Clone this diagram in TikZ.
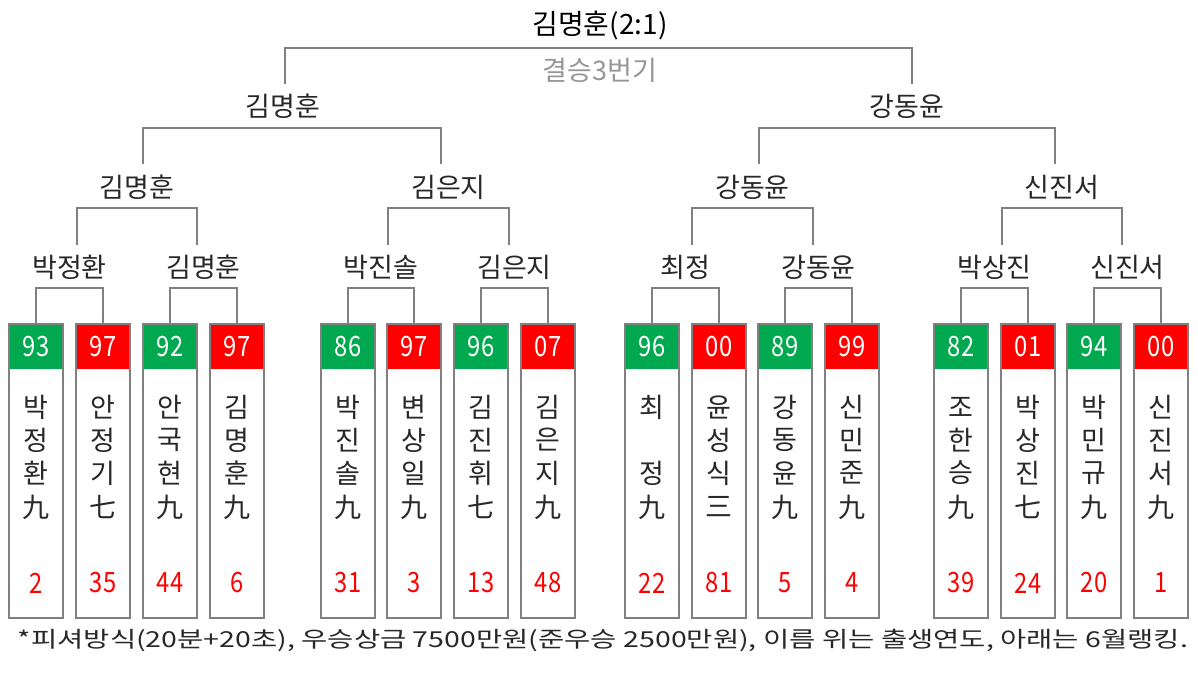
\documentclass[tikz,border=0pt]{standalone}
\usepackage{fontspec}
\setmainfont{Noto Sans CJK KR}
\usepackage{graphicx}
\definecolor{gr}{RGB}{0,169,79}
\definecolor{rd}{RGB}{255,0,0}
\definecolor{ln}{RGB}{128,128,128}
\definecolor{tx}{RGB}{40,40,40}
\definecolor{sub}{RGB}{150,150,150}
\newcommand{\tallnum}[1]{\scalebox{0.95}[1.12]{#1}}
\begin{document}
\begin{tikzpicture}[x=1pt,y=-1pt,
  lbl/.style={font=\fontsize{27}{27}\selectfont, text=tx, inner sep=0pt},
  hdr/.style={minimum width=54pt, minimum height=46pt, inner sep=0pt, anchor=north,
     font=\fontsize{25}{25}\selectfont, text=white},
  boxst/.style={draw=ln, line width=2pt, minimum width=54pt, minimum height=294pt,
     inner sep=0pt, anchor=north},
  nm/.style={font=\fontsize{27}{27}\selectfont, text=tx, inner sep=0pt},
  rk/.style={font=\fontsize{25}{25}\selectfont, text=rd, inner sep=0pt},
  brk/.style={draw=ln, line width=1.7pt}]
\useasboundingbox[fill=white] (0,0) rectangle (1198,679);

% player boxes
\foreach \i/\cx/\yr/\col/\a/\b/\c/\d/\rkv in {
 1/36/93/gr/박/정/환/九/2,
 2/103/97/rd/안/정/기/七/35,
 3/170/92/gr/안/국/현/九/44,
 4/237/97/rd/김/명/훈/九/6,
 5/348/86/gr/박/진/솔/九/31,
 6/414/97/rd/변/상/일/九/3,
 7/481/96/gr/김/진/휘/七/13,
 8/548/07/rd/김/은/지/九/48,
 9/652/96/gr/최/{}/정/九/22,
 10/719/00/rd/윤/성/식/三/81,
 11/785/89/gr/강/동/윤/九/5,
 12/852/99/rd/신/민/준/九/4,
 13/961/82/gr/조/한/승/九/39,
 14/1028/01/rd/박/상/진/七/24,
 15/1094/94/gr/박/민/규/九/20,
 16/1161/00/rd/신/진/서/九/1}{
  \node[hdr, fill=\col] (h\i) at (\cx,323) {\tallnum{\yr}};
  \node[boxst] (b\i) at (\cx,323) {};
  \node[nm] (n\i a) at (\cx,407) {\a};
  \node[nm] (n\i b) at (\cx,440) {\b};
  \node[nm] (n\i c) at (\cx,473) {\c};
  \node[nm] (n\i d) at (\cx,507) {\d};
  \node[rk] (r\i) at (\cx,583) {\tallnum{\rkv}};
}

% leaf brackets
\coordinate (yleaf) at (0,288);
\foreach \p/\q in {1/2,3/4,5/6,7/8,9/10,11/12,13/14,15/16}{
  \draw[brk] (b\p.north) -- (b\p.north |- yleaf) -- (b\q.north |- yleaf) -- (b\q.north);
}

% round 1 winners
\node[lbl] (w1) at (69.5,267) {박정환};
\node[lbl] (w2) at (203.5,267) {김명훈};
\node[lbl] (w3) at (381,267) {박진솔};
\node[lbl] (w4) at (514.5,267) {김은지};
\node[lbl] (w5) at (685.5,267) {최정};
\node[lbl] (w6) at (818.5,267) {강동윤};
\node[lbl] (w7) at (994.5,267) {박상진};
\node[lbl] (w8) at (1127.5,267) {신진서};

% round 2 brackets
\foreach \k/\xa/\xb in {1/77/197,2/388/509,3/692/813,4/1002/1122}{
  \coordinate (qa\k) at (\xa,245);
  \coordinate (qb\k) at (\xb,245);
  \draw[brk] (qa\k) -- ++(0,-37) -| (qb\k);
}
\node[lbl] (s1) at (137,187) {김명훈};
\node[lbl] (s2) at (448.5,187) {김은지};
\node[lbl] (s3) at (752.5,187) {강동윤};
\node[lbl] (s4) at (1062,187) {신진서};

% round 3 brackets
\foreach \k/\xa/\xb in {1/143/441,2/759/1055}{
  \coordinate (ta\k) at (\xa,164);
  \coordinate (tb\k) at (\xb,164);
  \draw[brk] (ta\k) -- ++(0,-36) -| (tb\k);
}
\node[lbl] (f1) at (283,106) {김명훈};
\node[lbl] (f2) at (907,106) {강동윤};

% final bracket
\coordinate (fa) at (285,84);
\coordinate (fb) at (912,84);
\draw[brk] (fa) -- ++(0,-36) -| (fb);
\node[font=\fontsize{28}{28}\selectfont, text=black, inner sep=0pt] (champ) at (600,26) {김명훈(2:1)};
\node[font=\fontsize{27}{27}\selectfont, text=sub, inner sep=0pt] (fin) at (600,70) {결승3번기};

% footnote
\node[font=\fontsize{22}{22}\selectfont, text=tx, inner sep=0pt] (note) at (603,640)
  {\resizebox{1170pt}{\height}{*피셔방식(20분+20초), 우승상금 7500만원(준우승 2500만원), 이름 위는 출생연도, 아래는 6월랭킹.}};
\end{tikzpicture}
\end{document}
